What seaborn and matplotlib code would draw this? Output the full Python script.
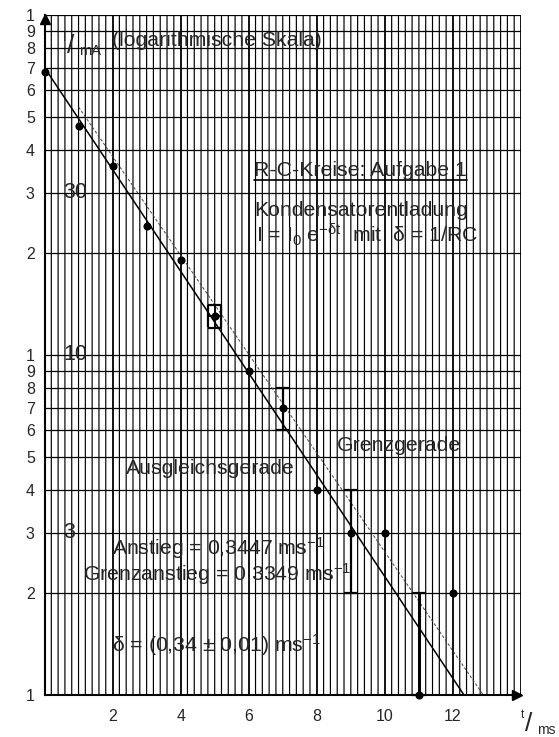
import numpy as np
import matplotlib
matplotlib.use("Agg")
import matplotlib.pyplot as plt
import seaborn as sns
from matplotlib import transforms
from matplotlib.lines import Line2D

# measured discharge current
t_ms = [0, 1, 2, 3, 4, 5, 6, 7, 8, 9, 10, 11, 12]
I_mA = [68, 47, 36, 24, 19, 13, 9, 7, 4, 3, 3, 1, 2]

# vertical error bars (lower / upper bound in mA)
err_t = [7, 9, 11]
err_low = [6, 2, 1]
err_high = [8, 4, 2]

# error box around the point at t = 5 ms
box_t = 5
box_I = 13
box_dI = 1
box_dt = 0.2

# fitted line (Ausgleichsgerade) and limit line (Grenzgerade)
fit_I0 = 70
fit_delta = 0.3447
limit_I0 = 75
limit_delta = 0.3349
limit_t_start = 1

x_ticks = [2, 4, 6, 8, 10, 12]
y_ticks = [1, 2, 3, 4, 5, 6, 7, 8, 9, 10, 20, 30, 40, 50, 60, 70, 80, 90, 100]
y_tick_labels = ["1", "2", "3", "4", "5", "6", "7", "8", "9",
                 "1", "2", "3", "4", "5", "6", "7", "8", "9", "1"]
inner_labels = [(30, "30"), (10, "10"), (3, "3")]

sns.set_style("white")
plt.rcParams["font.family"] = ["Liberation Sans", "DejaVu Sans"]
plt.rcParams["mathtext.fontset"] = "custom"
plt.rcParams["mathtext.rm"] = "Liberation Sans"
plt.rcParams["mathtext.it"] = "Liberation Sans:italic"
plt.rcParams["mathtext.bf"] = "Liberation Sans:bold"
plt.rcParams["mathtext.default"] = "regular"

W, H = 559, 737
fig = plt.figure(figsize=(W / 100, H / 100), dpi=100)
fig.patch.set_facecolor("white")
ax = fig.add_axes([44.5 / W, 42 / H, (521 - 44.5) / W, 680 / H])
ax.set_yscale("log")
ax.set_xlim(0, 14)
ax.set_ylim(1, 100)


def px(x, y):
    return x / W, 1 - y / H


# millimetre-paper style grid
minor_x = [round(v, 1) for v in np.arange(0.2, 14.0, 0.2) if abs(v / 2 - round(v / 2)) > 1e-6]
vl = ax.vlines(minor_x, 1, 100, colors="black", linewidth=0.85, zorder=1)
vl.set_snap(False)
ax.vlines(x_ticks + [14], 1, 100, colors="black", linewidth=1.3, zorder=1)
ax.hlines(y_ticks[1:], 0, 14, colors="black", linewidth=0.9, zorder=1)

for s in ["top", "right"]:
    ax.spines[s].set_visible(False)
for s in ["left", "bottom"]:
    ax.spines[s].set_linewidth(1.5)
    ax.spines[s].set_color("black")
    ax.spines[s].set_zorder(5)

ax.set_xticks(x_ticks)
ax.set_xticklabels([str(v) for v in x_ticks], fontsize=11.5)
ax.set_yticks(y_ticks)
ax.set_yticklabels(y_tick_labels, fontsize=11.5)
ax.minorticks_off()
ax.tick_params(axis="both", length=0)
ax.tick_params(axis="x", pad=10)
ax.tick_params(axis="y", pad=7)

# axis arrows
up = transforms.offset_copy(ax.transData, fig=fig, x=0, y=-3.5, units="dots")
ax.plot([0], [100], marker="^", ms=7, color="black", transform=up, clip_on=False, zorder=6)
right = transforms.offset_copy(ax.transData, fig=fig, x=-4.5, y=0, units="dots")
ax.plot([14], [1], marker=">", ms=7, color="black", transform=right, clip_on=False, zorder=6)

# fitted and limit lines
t_fit = np.linspace(0, np.log(fit_I0) / fit_delta, 50)
ax.plot(t_fit, fit_I0 * np.exp(-fit_delta * t_fit), color="black", lw=1.1, zorder=3)
t_lim = np.linspace(limit_t_start, np.log(limit_I0) / limit_delta, 50)
ax.plot(t_lim, limit_I0 * np.exp(-limit_delta * t_lim), color="#444444", lw=0.7,
        dashes=(3, 2), zorder=3)

# error bars
for t, lo, hi in zip(err_t, err_low, err_high):
    mid = next(i for tt, i in zip(t_ms, I_mA) if tt == t)
    ax.errorbar([t], [mid], yerr=[[mid - lo], [hi - mid]], fmt="none", ecolor="black",
                elinewidth=2.2 if t == 11 else 1.6, capsize=5, capthick=1.6, zorder=4,
                clip_on=False)
ax.errorbar([box_t], [box_I], yerr=[[box_dI], [box_dI]], fmt="none", ecolor="black",
            elinewidth=1.3, capsize=5, capthick=1.6, zorder=4)
ax.errorbar([box_t], [box_I], xerr=[[box_dt], [box_dt]], fmt="none", ecolor="black",
            elinewidth=1.3, capsize=8.2, capthick=1.6, zorder=4)

sns.scatterplot(x=t_ms, y=I_mA, ax=ax, color="black", s=34, edgecolor="black",
                linewidth=0, zorder=7, clip_on=False, legend=False)

# decade labels inside the plot
for val, lab in inner_labels:
    ax.text(0.55, val, lab, fontsize=15.5, va="center", ha="left", zorder=6)

# axis titles
fig.text(*px(63, 41), "I", fontsize=8.5)
fig.text(*px(67, 53), "/", fontsize=19)
fig.text(*px(79, 55), "mA", fontsize=10.5)
fig.text(*px(112, 46.5), "(logarithmische Skala)", fontsize=15.3)

fig.text(*px(521, 718), "t", fontsize=8.5)
fig.text(*px(525, 731), "/", fontsize=19)
fig.text(*px(537, 734), "ms", fontsize=10)

ann = 15.3
title = fig.text(*px(254, 176), "R-C-Kreise: Aufgabe 1", fontsize=ann)
fig.text(*px(254, 216.5), "Kondensatorentladung", fontsize=ann)
fig.text(*px(256, 242.5), r"I = I$_0$ e$^{-δt}$  mit  δ = 1/RC", fontsize=ann)
fig.text(*px(337, 450.5), "Grenzgerade", fontsize=ann)
fig.text(*px(126, 474), "Ausgleichsgerade", fontsize=ann)
fig.text(*px(112, 555), f"Anstieg = {fit_delta:.4f} ms$^{{-1}}$".replace(".", ","), fontsize=ann)
fig.text(*px(83, 580.5), f"Grenzanstieg = {limit_delta:.4f} ms$^{{-1}}$".replace(".", ","),
         fontsize=ann)
fig.text(*px(112, 651.5), "δ = (0,34 ± 0,01) ms$^{-1}$", fontsize=ann)

# underline the title
fig.canvas.draw()
bb = title.get_window_extent()
fig.add_artist(Line2D([bb.x0 / W, bb.x1 / W], [1 - 180 / H, 1 - 180 / H],
                      transform=fig.transFigure, color="black", lw=1.2))

fig.savefig("out.png", dpi=100, facecolor="white")
